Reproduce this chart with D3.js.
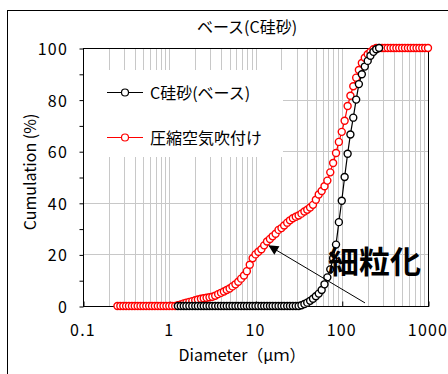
<!DOCTYPE html>
<html>
<head>
<meta charset="utf-8">
<script src="https://cdn.jsdelivr.net/npm/d3@7"></script>
<style>
    body { margin: 0; background: #fff; }
    svg text { font-family: "Noto Sans CJK JP", "Noto Sans", sans-serif; fill: #000; }
</style>
</head>
<body>
<svg id="chart" width="448" height="374"></svg>
<script>
// particle size bins (um), shared by both curves
const diameters = [
    0.251, 0.271, 0.293, 0.316, 0.341, 0.369, 0.398, 0.430, 0.464, 0.501,
    0.541, 0.585, 0.631, 0.681, 0.736, 0.794, 0.858, 0.926, 1.00, 1.08,
    1.17, 1.26, 1.36, 1.47, 1.58, 1.71, 1.85, 2.00, 2.15, 2.33,
    2.51, 2.71, 2.93, 3.16, 3.41, 3.69, 3.98, 4.30, 4.64, 5.01,
    5.41, 5.85, 6.31, 6.81, 7.36, 7.94, 8.58, 9.26, 10.0, 10.8,
    11.7, 12.6, 13.6, 14.7, 15.8, 17.1, 18.5, 20.0, 21.5, 23.3,
    25.1, 27.1, 29.3, 31.6, 34.1, 36.9, 39.8, 43.0, 46.4, 50.1,
    54.1, 58.5, 63.1, 68.1, 73.6, 79.4, 85.8, 92.6, 100, 108,
    117, 126, 136, 147, 158, 171, 185, 200, 215, 233,
    251, 271, 293, 316, 341, 369, 398, 430, 464, 501,
    541, 585, 631, 681, 736, 794, 858, 926, 1000
];

// 圧縮空気吹付け (all bins)
const sprayedValues = [
    0, 0, 0, 0, 0, 0, 0, 0, 0, 0,
    0, 0, 0, 0, 0, 0, 0, 0, 0, 0,
    0, 0.3, 0.6, 1.0, 1.3, 1.6, 1.9, 2.2, 2.5, 2.8,
    3.0, 3.2, 3.4, 3.6, 4.0, 4.6, 5.1, 5.6, 6.2, 6.8,
    7.6, 8.4, 9.4, 10.6, 11.8, 13.5, 16.0, 18.5, 20.0, 21.0,
    22.0, 23.5, 25.0, 26.0, 27.0, 28.0, 29.5, 30.2, 31.2, 32.3,
    33.2, 34.0, 34.6, 35.1, 35.8, 36.6, 37.3, 38.2, 39.2, 41.2,
    43.2, 44.6, 46.4, 48.6, 51.8, 55.4, 59.3, 63.6, 67.5, 71.8,
    77.5, 81.5, 85.2, 88.5, 91.5, 94.2, 96.2, 97.6, 98.5, 99.5,
    100, 100, 100, 100, 100, 100, 100, 100, 100, 100,
    100, 100, 100, 100, 100, 100, 100, 100, 100
];

// C硅砂(ベース): bins 1.26 .. 271 um
const baseDiameters = diameters.slice(21, 92);
const baseValues = [
    0, 0, 0, 0, 0, 0, 0, 0, 0, 0,
    0, 0, 0, 0, 0, 0, 0, 0, 0, 0,
    0, 0, 0, 0, 0, 0, 0, 0, 0, 0,
    0, 0, 0, 0, 0, 0, 0, 0, 0, 0,
    0, 0, 0, 0.3, 0.8, 1.3, 2.0, 2.8, 3.8, 4.8,
    6.2, 8.4, 11.1, 14.2, 18.5, 23.8, 32.5, 40.8, 50.0, 59.0,
    66.5, 73.0, 80.0, 86.0, 89.8, 92.8, 95.0, 97.0, 98.5, 99.5,
    100
];

const xTicks = [0.1, 1, 10, 100, 1000];
const xTickLabels = ['0.1', '1', '10', '100', '1000'];
const yTicks = [0, 20, 40, 60, 80, 100];

let svg = d3.select('#chart');
let plot = {left: 83, right: 428, top: 48, bottom: 306};

let x = d3.scaleLog().domain([0.1, 1000]).range([plot.left, plot.right]);
let y = d3.scaleLinear().domain([0, 100]).range([plot.bottom, plot.top]);

// outer frame (runs off the right and bottom edges)
svg.append('rect')
    .attr('x', 7.5).attr('y', 10.5)
    .attr('width', 600).attr('height', 600)
    .attr('fill', 'none').attr('stroke', '#000');

// grid
let minor = [];
for (let e = -1; e < 3; e++) {
    for (let m = 1; m < 10; m++) minor.push(m * Math.pow(10, e));
}
let grid = svg.append('g').attr('stroke', '#c8c8c8').attr('stroke-width', 1);
grid.selectAll('line.v')
    .data(minor.filter(d => d > 0.1))
    .join('line')
    .attr('x1', d => Math.round(x(d)) + 0.5).attr('x2', d => Math.round(x(d)) + 0.5)
    .attr('y1', plot.top).attr('y2', plot.bottom);
grid.selectAll('line.h')
    .data([20, 40, 60, 80])
    .join('line')
    .attr('x1', plot.left).attr('x2', plot.right)
    .attr('y1', d => Math.round(y(d)) + 0.5).attr('y2', d => Math.round(y(d)) + 0.5);

// legend box hides the grid behind it
svg.append('rect')
    .attr('x', plot.left + 1).attr('y', 70)
    .attr('width', 283 - plot.left - 1).attr('height', 87)
    .attr('fill', '#fff');

// plot border
svg.append('rect')
    .attr('x', plot.left + 0.5).attr('y', plot.top + 0.5)
    .attr('width', plot.right - plot.left).attr('height', plot.bottom - plot.top)
    .attr('fill', 'none').attr('stroke', '#000');

// axes
let yAxis = svg.append('g')
    .attr('transform', `translate(${plot.left + 0.5},0.5)`)
    .call(d3.axisLeft(y).tickValues(d3.range(0, 101, 10)).tickSize(4).tickFormat(''));
yAxis.select('.domain').remove();

svg.append('g')
    .selectAll('text')
    .data(yTicks)
    .join('text')
    .attr('x', 68).attr('y', d => y(d))
    .attr('text-anchor', 'end').attr('dominant-baseline', 'central')
    .attr('font-size', 16).attr('letter-spacing', 1.2)
    .text(d => d);

let xAxis = svg.append('g')
    .attr('transform', `translate(0.5,${plot.bottom + 0.5})`)
    .call(d3.axisTop(x).tickValues(xTicks).tickSize(5).tickFormat(''));
xAxis.select('.domain').remove();

svg.append('g')
    .selectAll('text')
    .data(xTicks)
    .join('text')
    .attr('x', d => x(d)).attr('y', 329)
    .attr('text-anchor', 'middle').attr('dominant-baseline', 'central')
    .attr('font-size', 16).attr('letter-spacing', 1.2)
    .text((d, i) => xTickLabels[i]);

// titles
svg.append('text')
    .attr('x', 247).attr('y', 26)
    .attr('text-anchor', 'middle').attr('dominant-baseline', 'central')
    .attr('font-size', 16)
    .text('ベース(C硅砂)');

svg.append('text')
    .attr('x', 242).attr('y', 354)
    .attr('text-anchor', 'middle').attr('dominant-baseline', 'central')
    .attr('font-size', 16)
    .text('Diameter（μｍ）');

svg.append('text')
    .attr('transform', 'translate(29,172) rotate(-90)')
    .attr('text-anchor', 'middle').attr('dominant-baseline', 'central')
    .attr('font-size', 16)
    .text('Cumulation (%)');

// series
let line = d3.line()
    .x(d => x(d[0]))
    .y(d => y(d[1]));

function drawSeries(xs, ys, colour) {
    let pts = xs.map((d, i) => [d, ys[i]]);
    let g = svg.append('g');
    g.append('path')
        .datum(pts)
        .attr('fill', 'none')
        .attr('stroke', colour)
        .attr('stroke-width', 1.2)
        .attr('d', line);
    g.selectAll('circle')
        .data(pts)
        .join('circle')
        .attr('cx', d => x(d[0]))
        .attr('cy', d => y(d[1]))
        .attr('r', 3.5)
        .attr('fill', '#fff')
        .attr('stroke', colour)
        .attr('stroke-width', 1.4);
}

drawSeries(diameters, sprayedValues, '#ff0000');
drawSeries(baseDiameters, baseValues, '#000000');

// legend
let legendItems = [
    {name: 'C硅砂(ベース)', colour: '#000000', y: 92},
    {name: '圧縮空気吹付け', colour: '#ff0000', y: 137}
];
let legend = svg.append('g');
legendItems.forEach(item => {
    legend.append('line')
        .attr('x1', 107).attr('x2', 143)
        .attr('y1', item.y + 0.5).attr('y2', item.y + 0.5)
        .attr('stroke', item.colour);
    legend.append('circle')
        .attr('cx', 125).attr('cy', item.y + 0.5).attr('r', 3.5)
        .attr('fill', '#fff').attr('stroke', item.colour).attr('stroke-width', 1.2);
    legend.append('text')
        .attr('x', 150).attr('y', item.y)
        .attr('dominant-baseline', 'central')
        .attr('font-size', 16)
        .text(item.name);
});

// annotation: 細粒化 with arrow
svg.append('defs').append('marker')
    .attr('id', 'head')
    .attr('viewBox', '0 0 10 10')
    .attr('refX', 9).attr('refY', 5)
    .attr('markerWidth', 14).attr('markerHeight', 10)
    .attr('markerUnits', 'userSpaceOnUse')
    .attr('orient', 'auto')
    .append('path')
    .attr('d', 'M0,0L10,5L0,10Z')
    .attr('fill', '#000');

svg.append('line')
    .attr('x1', x(186)).attr('y1', y(1.2))
    .attr('x2', x(14.4)).attr('y2', y(23.3))
    .attr('stroke', '#000').attr('stroke-width', 1)
    .attr('marker-end', 'url(#head)');

svg.append('text')
    .attr('x', 328).attr('y', 259)
    .attr('dominant-baseline', 'central')
    .attr('font-size', 31).attr('font-weight', 'bold')
    .text('細粒化');
</script>
</body>
</html>
